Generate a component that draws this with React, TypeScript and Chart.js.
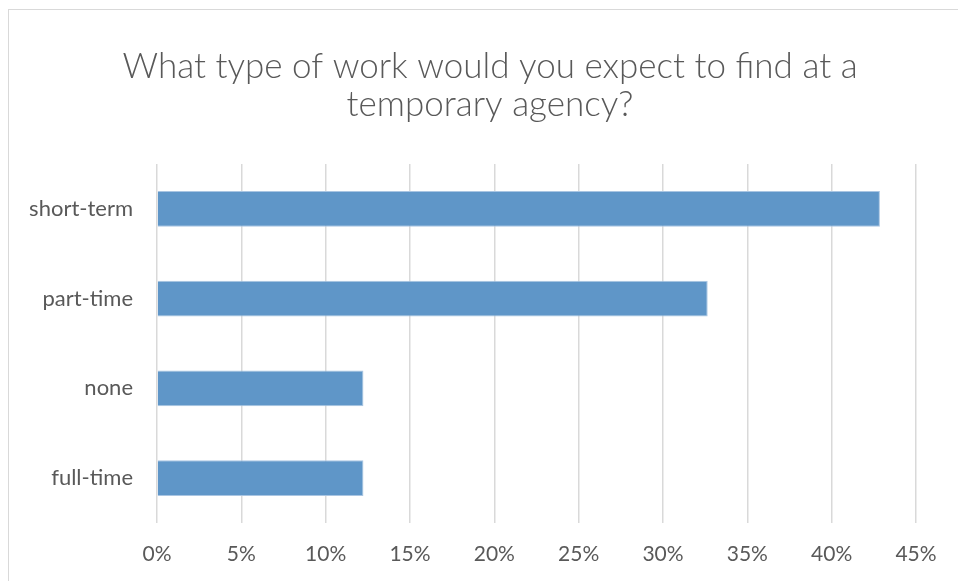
import React, { useEffect, useRef } from "react";
import { Chart, registerables } from "chart.js";

Chart.register(...registerables);

const titleLines = ["What type of work would you expect to find at a", "temporary agency?"];
const categories = ["short-term", "part-time", "none", "full-time"];
const shares = [0.4286, 0.3265, 0.1224, 0.1224];
const xTicks = [0, 0.05, 0.1, 0.15, 0.2, 0.25, 0.3, 0.35, 0.4, 0.45];

const FONT = "Lato, 'Open Sans', sans-serif";
const TEXT = "#595959";

const titlePlugin = {
  id: "centeredTitle",
  afterDraw(chart: any) {
    const c = chart.ctx;
    c.save();
    c.fillStyle = TEXT;
    c.font = `300 35px ${FONT}`;
    c.textAlign = "center";
    c.textBaseline = "middle";
    const cx = 490;
    titleLines.forEach((line, i) => {
      c.fillText(line, cx, 67 + i * 38);
    });
    c.restore();
  },
};

export default function App() {
  const ref = useRef<HTMLCanvasElement>(null);

  useEffect(() => {
    document.body.style.margin = "0";
    const ctx = ref.current!;
    const chart = new Chart(ctx, {
      type: "bar",
      data: {
        labels: categories,
        datasets: [
          {
            data: shares,
            backgroundColor: "#5F96C8",
            borderColor: "#A9C5E2",
            borderWidth: 1,
            categoryPercentage: 1,
            barPercentage: 0.4,
          },
        ],
      },
      plugins: [titlePlugin],
      options: {
        indexAxis: "y",
        animation: false,
        responsive: false,
        maintainAspectRatio: false,
        layout: { padding: { left: 0, right: 42, top: 164, bottom: 0 } },
        plugins: {
          legend: { display: false },
          tooltip: { enabled: false },
          title: { display: false },
        },
        scales: {
          x: {
            min: 0,
            max: 0.45,
            afterBuildTicks: (scale: any) => {
              scale.ticks = xTicks.map((v) => ({ value: v }));
            },
            afterFit: (scale: any) => {
              scale.height = 58;
            },
            grid: { color: "#D9D9D9", lineWidth: 1.5, drawTicks: false },
            border: { display: false },
            ticks: {
              color: TEXT,
              padding: 19,
              font: { family: FONT, size: 21 },
              callback: (v: any) => Math.round(Number(v) * 100) + "%",
            },
          },
          y: {
            afterFit: (scale: any) => {
              scale.width = 157;
            },
            grid: { display: false },
            border: { display: false },
            ticks: {
              color: TEXT,
              padding: 16,
              font: { family: FONT, size: 22 },
            },
          },
        },
      },
    });
    return () => chart.destroy();
  }, []);

  return (
    <div style={{ position: "relative", width: 958, height: 581, overflow: "hidden", background: "#fff" }}>
      <div
        style={{
          position: "absolute",
          left: 8,
          top: 9,
          width: 1000,
          height: 1000,
          borderLeft: "1.5px solid #D9D9D9",
          borderTop: "1.5px solid #D9D9D9",
        }}
      />
      <canvas ref={ref} width={958} height={581} style={{ position: "absolute", left: 0, top: 0 }} />
    </div>
  );
}
